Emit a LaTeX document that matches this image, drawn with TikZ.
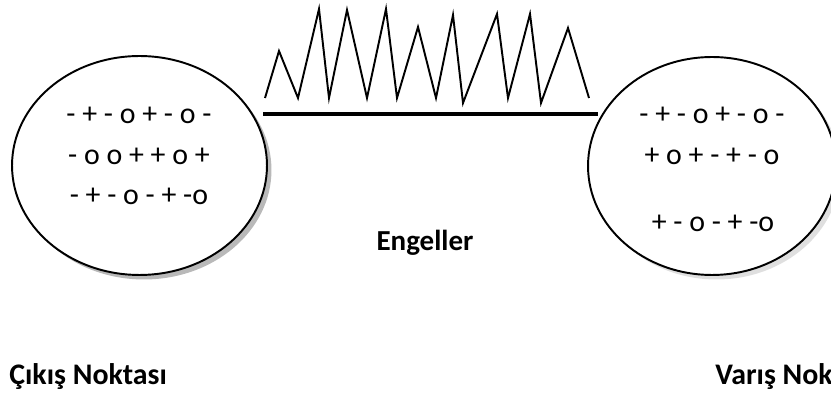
\documentclass[tikz,border=0pt]{standalone}
\usepackage{fontspec}
\setmainfont{Carlito}
\usetikzlibrary{shapes.geometric,shadows}
\begin{document}
\begin{tikzpicture}[x=0.02cm,y=-0.02cm,
    every node/.style={font=\fontsize{17}{20}\selectfont},
    zone/.style={ellipse,draw,line width=1.1pt,fill=white,inner sep=0pt},
    signs/.style={anchor=base,inner sep=0pt},
    title/.style={font=\fontsize{17}{20}\selectfont\bfseries,inner sep=0pt}]
  \useasboundingbox (0,0) rectangle (831,394);
  \node[zone,minimum width=5.1cm,minimum height=4.38cm,
    drop shadow={shadow xshift=0.09cm,shadow yshift=-0.09cm,fill=black!55}] (start) at (139.5,165.5) {};
  \node[zone,minimum width=4.96cm,minimum height=4.36cm,
    drop shadow={shadow xshift=0.09cm,shadow yshift=-0.09cm,fill=black!25}] (goal) at (712,166) {};
  \node[signs] (s1) at (139,124) {- + - o + - o -};
  \node[signs] (s2) at (139,165) {- o o + + o +};
  \node[signs] (s3) at (139,205) {- + - o - + -o};
  \node[signs] (g1) at (712,124) {- + - o + - o -};
  \node[signs] (g2) at (712,165) {+ o + - + - o};
  \node[signs] (g3) at (713,232) {+ - o - + -o};
  \draw[line width=1.1pt] (265,98) -- (279,51) -- (298,98) -- (319,9) -- (329,98)
    -- (347,10) -- (367,98) -- (386,9) -- (397,98) -- (418,27) -- (436,98)
    -- (453,15) -- (463,103) -- (497,14) -- (508,98) -- (530,14) -- (541,103)
    -- (568,28) -- (589,98);
  \draw[line width=1.9pt] (263,114) -- (598,114);
  \node[title,font=\fontsize{16.5}{20}\selectfont\bfseries,anchor=base] (obst) at (425,251) {Engeller};
  \node[title,anchor=base west] (from) at (9,385) {Çıkış Noktası};
  \node[title,anchor=base west] (to) at (715,385) {Varış Nok};
\end{tikzpicture}
\end{document}
